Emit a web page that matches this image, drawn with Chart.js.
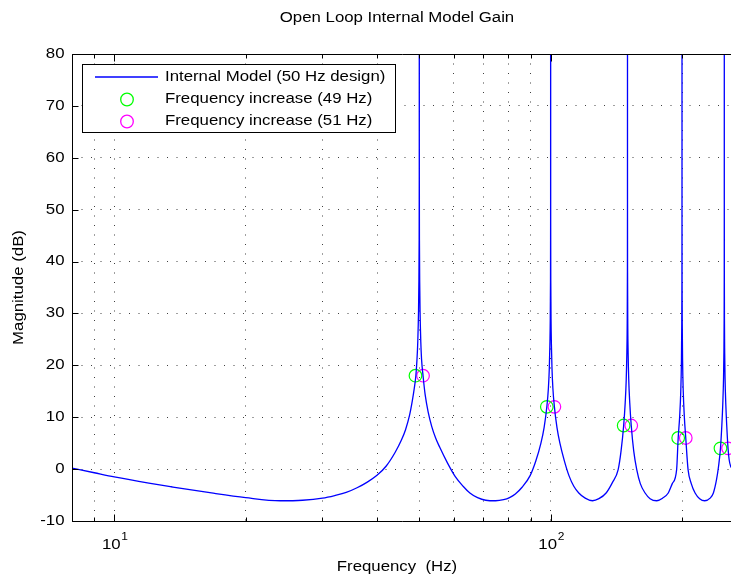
<!DOCTYPE html>
<html>
<head>
<meta charset="utf-8">
<script src="https://cdn.jsdelivr.net/npm/chart.js@4/dist/chart.umd.min.js"></script>
<style>
  html, body { margin: 0; padding: 0; background: #fff; }
  #gainChart { display: block; }
</style>
</head>
<body>
<canvas id="gainChart" width="731" height="586"></canvas>
<script>
// Open loop gain of the internal model (Hz, dB)
const freqHz = [8, 9, 10, 12, 13.5, 16.7, 20, 24, 27, 30, 32, 34, 36, 38, 40, 42, 44, 45.5, 46.5, 47.5, 48.2, 48.7, 49.1, 49.4, 49.6, 49.8, 49.9, 49.96, 49.99,
    50, 50.01, 50.04, 50.1, 50.2, 50.4, 50.6, 51, 51.6, 52.4, 53.4, 54.5, 55.7, 58, 60.4, 63, 65.3, 68, 71, 74.8, 78, 80.5, 83, 86, 89.8, 92.5, 95, 96.6, 98, 98.8, 99.3, 99.6, 99.8, 99.92, 99.98,
    100, 100.02, 100.08, 100.2, 100.4, 100.7, 101.2, 102, 103.4, 105, 107.5, 110.2, 113, 116, 120, 124.7, 129, 134, 138.5, 142.8, 145, 147, 148.2, 149, 149.5, 149.8, 149.94, 149.99,
    150, 150.01, 150.06, 150.2, 150.5, 151, 151.8, 153, 155, 157.5, 160.5, 164.6, 169, 175, 180.5, 186, 190, 194.4, 196, 197.5, 198.7, 199.4, 199.75, 199.92, 199.98,
    200, 200.02, 200.08, 200.25, 200.6, 201.3, 202.5, 204, 206.5, 210, 214.3, 219.5, 225.5, 232, 236, 240, 242.5, 245, 246.8, 248, 249, 249.5, 249.8, 249.94, 249.99,
    250, 250.01, 250.06, 250.2, 250.5, 251, 252, 253.2, 255, 256.5, 259];
const magDb = [0.2, -0.7, -1.5, -2.7, -3.4, -4.6, -5.5, -6.1, -6.0, -5.6, -5.1, -4.5, -3.6, -2.5, -1.2, 0.6, 3.2, 5.6, 7.6, 10.4, 13.2, 15.6, 18.0, 21.2, 24.5, 30.5, 36.5, 44, 56,
    120, 56, 44, 36.5, 30.5, 24.5, 21.2, 18, 14.2, 11, 8.2, 6, 4.2, 1.2, -1.4, -3.3, -4.6, -5.5, -6.0, -6.1, -5.9, -5.5, -4.8, -3.5, -1.2, 1.6, 5.0, 8.0, 12, 15.5, 19.5, 24, 29, 36, 48,
    120, 48, 36, 29, 24, 19.5, 15.5, 12, 8, 5.0, 1.6, -1.3, -3.3, -4.6, -5.6, -6.1, -5.7, -4.6, -2.6, -0.1, 3.5, 8.4, 12.8, 17.2, 22.5, 29, 38, 52,
    120, 52, 38, 29, 22.5, 17.2, 12.8, 8.4, 3.5, -0.1, -2.8, -4.6, -5.7, -6.1, -5.6, -4.6, -2.8, -0.1, 6.0, 10, 15, 21, 28, 36, 48,
    120, 48, 36, 28, 21, 15, 10, 6, -0.1, -2.8, -4.6, -5.7, -6.1, -5.6, -4.6, -2.0, 0.5, 4, 8.5, 12.5, 17.5, 22.5, 29, 38, 52,
    120, 52, 38, 29, 22.5, 17.5, 12.5, 8.5, 4, 1.8, 0.3];

// gain at the shifted grid frequencies
const freq49 = [49, 98, 147, 196, 245];
const freq51 = [51, 102, 153, 204, 255];
const markerDb = [18, 12, 8.4, 6, 4];

const yTicks = [-10, 0, 10, 20, 30, 40, 50, 60, 70, 80];
const xGrid = [9, 10, 20, 30, 40, 50, 60, 70, 80, 90, 100, 200];
const xDecades = [10, 100];

const seriesNames = ['Internal Model (50 Hz design)', 'Frequency increase (49 Hz)', 'Frequency increase (51 Hz)'];
const seriesColors = ['#0000ff', '#00ff00', '#ff00ff'];

const FONT = '"Liberation Sans", Arial, Helvetica, sans-serif';
const STRETCH = 1.2; // the original lettering is wide

const toPoints = (xs, ys) => xs.map((v, i) => ({ x: v, y: ys[i] }));

function wideText(ctx, s, x, y, size, align, angle) {
    ctx.save();
    ctx.font = size + 'px ' + FONT;
    ctx.textAlign = align;
    ctx.textBaseline = 'middle';
    ctx.translate(x, y);
    if (angle) ctx.rotate(angle);
    ctx.scale(STRETCH, 1);
    ctx.fillText(s, 0, 0);
    ctx.restore();
}

const matlabAxes = {
    id: 'matlabAxes',
    afterDraw(chart) {
        const { ctx, chartArea: a, scales: { x, y } } = chart;
        const L = Math.round(a.left) + 0.5;
        const T = Math.round(a.top) + 0.5;
        const B = Math.round(a.bottom) + 0.5;
        const R = chart.width + 1;
        ctx.save();

        // axis lines and inward ticks
        ctx.strokeStyle = '#000';
        ctx.lineWidth = 1;
        ctx.beginPath();
        ctx.moveTo(L, T); ctx.lineTo(R, T);
        ctx.moveTo(L, T); ctx.lineTo(L, B);
        ctx.moveTo(L, B); ctx.lineTo(R, B);
        yTicks.forEach(v => {
            const py = Math.round(y.getPixelForValue(v)) + 0.5;
            ctx.moveTo(L, py); ctx.lineTo(L + 6, py);
        });
        xGrid.forEach(v => {
            const px = Math.round(x.getPixelForValue(v)) + 0.5;
            const len = xDecades.includes(v) ? 7 : 4;
            ctx.moveTo(px, B); ctx.lineTo(px, B - len);
            ctx.moveTo(px, T); ctx.lineTo(px, T + len);
        });
        ctx.stroke();
        ctx.fillStyle = '#000';

        // y tick labels
        yTicks.forEach(v => wideText(ctx, String(v), L - 8, y.getPixelForValue(v), 14, 'right'));

        // x decade labels 10^1, 10^2
        xDecades.forEach((v, i) => {
            const px = x.getPixelForValue(v);
            wideText(ctx, '10', px - 3, B + 24, 14, 'center');
            wideText(ctx, String(i + 1), px + 7, B + 16, 10, 'left');
        });

        // axis titles and chart title
        wideText(ctx, 'Frequency  (Hz)', 397, 567, 14, 'center');
        wideText(ctx, 'Open Loop Internal Model Gain', 397, 18, 14, 'center');
        wideText(ctx, 'Magnitude (dB)', 19, (a.top + a.bottom) / 2, 14, 'center', -Math.PI / 2);

        // legend box
        const bx = 82.5, by = 64.5, bw = 313, bh = 68;
        ctx.fillStyle = '#fff';
        ctx.fillRect(bx, by, bw, bh);
        ctx.strokeStyle = '#000';
        ctx.lineWidth = 1;
        ctx.strokeRect(bx, by, bw, bh);
        const rows = [77, 99.5, 121.5];
        ctx.strokeStyle = seriesColors[0];
        ctx.lineWidth = 1.3;
        ctx.beginPath();
        ctx.moveTo(95, rows[0]); ctx.lineTo(158, rows[0]);
        ctx.stroke();
        [1, 2].forEach(k => {
            ctx.strokeStyle = seriesColors[k];
            ctx.beginPath();
            ctx.arc(127, rows[k], 6.3, 0, Math.PI * 2);
            ctx.stroke();
        });
        ctx.fillStyle = '#000';
        seriesNames.forEach((s, k) => wideText(ctx, s, 165, rows[k], 14, 'left'));
        ctx.restore();
    }
};

const ctx = document.getElementById('gainChart').getContext('2d');
const gainChart = new Chart(ctx, {
    type: 'line',
    data: {
        datasets: [{
            label: seriesNames[0],
            data: toPoints(freqHz, magDb),
            borderColor: seriesColors[0],
            borderWidth: 1.3,
            pointRadius: 0,
            cubicInterpolationMode: 'monotone',
            capBezierPoints: false,
            fill: false
        }, {
            label: seriesNames[1],
            data: toPoints(freq49, markerDb),
            showLine: false,
            pointRadius: 6.3,
            pointBorderWidth: 1.2,
            pointBorderColor: seriesColors[1],
            pointBackgroundColor: 'rgba(0,0,0,0)'
        }, {
            label: seriesNames[2],
            data: toPoints(freq51, markerDb),
            showLine: false,
            pointRadius: 6.3,
            pointBorderWidth: 1.2,
            pointBorderColor: seriesColors[2],
            pointBackgroundColor: 'rgba(0,0,0,0)'
        }]
    },
    options: {
        responsive: false,
        animation: false,
        layout: {
            autoPadding: false,
            padding: { left: 72, top: 54, right: 0, bottom: 65 }
        },
        plugins: {
            legend: { display: false },
            title: { display: false },
            tooltip: { enabled: false }
        },
        scales: {
            x: {
                type: 'logarithmic',
                min: 8,
                max: 259,
                afterBuildTicks: s => { s.ticks = xGrid.map(v => ({ value: v })); },
                afterFit: s => { s.height = 0; },
                ticks: { display: false },
                grid: { color: 'rgba(0,0,0,0.75)', lineWidth: 1, drawTicks: false },
                border: { display: false, dash: [1, 8.5] }
            },
            y: {
                min: -10,
                max: 80,
                afterBuildTicks: s => { s.ticks = yTicks.map(v => ({ value: v })); },
                afterFit: s => { s.width = 0; },
                ticks: { display: false },
                grid: { color: 'rgba(0,0,0,0.75)', lineWidth: 1, drawTicks: false },
                border: { display: false, dash: [1, 8.5] }
            }
        }
    },
    plugins: [matlabAxes]
});
</script>
</body>
</html>
